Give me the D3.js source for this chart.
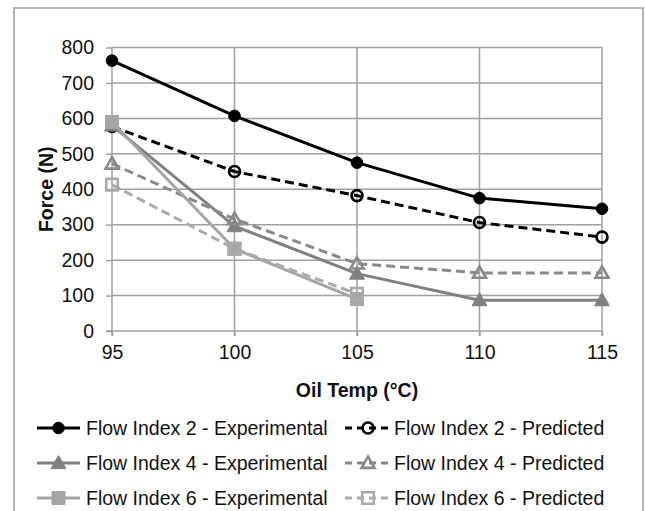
<!DOCTYPE html>
<html><head><meta charset="utf-8">
<script src="https://cdn.jsdelivr.net/npm/d3@7"></script>
<style>
html,body{margin:0;padding:0;background:#fff;}
svg{display:block;font-family:"Liberation Sans",Arial,sans-serif;}
</style></head>
<body><svg id="c" width="645" height="511"></svg>
<script>
const temps = [95, 100, 105, 110, 115];
const yTicks = [0, 100, 200, 300, 400, 500, 600, 700, 800];
const seriesNames = [
  "Flow Index 2 - Experimental", "Flow Index 2 - Predicted",
  "Flow Index 4 - Experimental", "Flow Index 4 - Predicted",
  "Flow Index 6 - Experimental", "Flow Index 6 - Predicted"
];
const fi2Exp  = [763, 607, 475, 375, 345];
const fi2Pred = [577, 450, 382, 306, 265];
const fi4Exp  = [580, 296, 162, 87, 87];
const fi4Pred = [472, 316, 190, 164, 164];
const fi6Exp  = [590, 232, 90];
const fi6Pred = [413, 232, 105];

const styles = [
  {color:"#000000", dash:null, marker:"circle", fill:true},
  {color:"#000000", dash:"9,5", marker:"circle", fill:false},
  {color:"#808080", dash:null, marker:"triangle", fill:true},
  {color:"#8a8a8a", dash:"9,5", marker:"triangle", fill:false},
  {color:"#a6a6a6", dash:null, marker:"square", fill:true},
  {color:"#ababab", dash:"9,5", marker:"square", fill:false}
];
const seriesVals = [fi2Exp, fi2Pred, fi4Exp, fi4Pred, fi6Exp, fi6Pred];

const svg = d3.select("#c");
const x = d3.scaleLinear().domain([95, 115]).range([112, 602]);
const y = d3.scaleLinear().domain([0, 800]).range([331, 47.5]);
const grid = "#a0a0a0";
const txt = "#111111";

// outer frame
svg.append("rect").attr("x", 14).attr("y", 8).attr("width", 629).attr("height", 520)
  .attr("fill", "none").attr("stroke", "#9a9a9a").attr("stroke-width", 1.5);

// horizontal gridlines
svg.append("g").selectAll("line").data(yTicks.filter(d => d > 0)).join("line")
  .attr("x1", x(95)).attr("x2", x(115)).attr("y1", d => y(d)).attr("y2", d => y(d))
  .attr("stroke", grid).attr("stroke-width", 1.5);
// vertical gridlines (extend below axis as ticks)
svg.append("g").selectAll("line").data(temps.filter(d => d > 95)).join("line")
  .attr("x1", d => x(d)).attr("x2", d => x(d)).attr("y1", y(800)).attr("y2", y(0) + 5)
  .attr("stroke", grid).attr("stroke-width", 1.5);

// y axis
const yAxis = d3.axisLeft(y).tickValues(yTicks).tickSize(6).tickPadding(12).tickFormat(d3.format("d"));
const gy = svg.append("g").attr("transform", `translate(${x(95)},0)`).call(yAxis);
gy.select(".domain").attr("stroke", grid).attr("stroke-width", 1.5).attr("d", `M0,${y(800)}V${y(0)+5}`);
gy.selectAll(".tick line").attr("stroke", grid).attr("stroke-width", 1.5);
gy.selectAll(".tick text").attr("font-size", 19.5).attr("fill", txt)
  .attr("font-family", "'Liberation Sans',Arial,sans-serif");

// x axis
const xAxis = d3.axisBottom(x).tickValues(temps).tickSize(5).tickPadding(9).tickFormat(d3.format("d"));
const gx = svg.append("g").attr("transform", `translate(0,${y(0)})`).call(xAxis);
gx.select(".domain").attr("stroke", grid).attr("stroke-width", 1.5).attr("d", `M${x(95)-6},0H${x(115)}`);
gx.selectAll(".tick line").attr("stroke", grid).attr("stroke-width", 1.5);
gx.selectAll(".tick text").attr("font-size", 19.5).attr("fill", txt)
  .attr("font-family", "'Liberation Sans',Arial,sans-serif");

// axis titles
svg.append("text").attr("x", 357).attr("y", 397).attr("text-anchor", "middle")
  .attr("font-size", 19.5).attr("font-weight", "bold").attr("fill", txt).text("Oil Temp (°C)");
svg.append("text").attr("transform", `translate(53,${(y(0)+y(800))/2}) rotate(-90)`)
  .attr("text-anchor", "middle").attr("font-size", 19.5).attr("font-weight", "bold")
  .attr("fill", txt).text("Force (N)");

function drawMarker(g, type, cx, cy, st) {
  const sw = 2.6;
  if (type === "circle") {
    g.append("circle").attr("cx", cx).attr("cy", cy).attr("r", st.fill ? 5.8 : 5.5)
      .attr("fill", st.fill ? st.color : "none").attr("stroke", st.color).attr("stroke-width", st.fill ? 1 : sw);
  } else if (type === "triangle") {
    const s = st.fill ? 7.5 : 6.5;
    const pts = [[cx, cy - s], [cx + s, cy + s * 0.75], [cx - s, cy + s * 0.75]];
    g.append("polygon").attr("points", pts.map(p => p.join(",")).join(" "))
      .attr("fill", st.fill ? st.color : "none").attr("stroke", st.color).attr("stroke-width", st.fill ? 1 : sw)
      .attr("stroke-linejoin", "miter");
  } else {
    const s = st.fill ? 6.5 : 5.8;
    g.append("rect").attr("x", cx - s).attr("y", cy - s).attr("width", 2 * s).attr("height", 2 * s)
      .attr("fill", st.fill ? st.color : "none").attr("stroke", st.color).attr("stroke-width", st.fill ? 1 : sw);
  }
}

const line = d3.line().x(d => x(d[0])).y(d => y(d[1]));
seriesVals.forEach((vals, i) => {
  const st = styles[i];
  const pts = vals.map((v, j) => [temps[j], v]);
  const g = svg.append("g");
  g.append("path").attr("d", line(pts)).attr("fill", "none").attr("stroke", st.color)
    .attr("stroke-width", 3).attr("stroke-dasharray", st.dash).attr("stroke-linejoin", "round");
  pts.forEach(p => drawMarker(g, st.marker, x(p[0]), y(p[1]), st));
});

// legend
const legRows = [428, 463, 498];
const legCols = [{x1: 37, x2: 80, tx: 86}, {x1: 345, x2: 391, tx: 394}];
seriesNames.forEach((name, i) => {
  const st = styles[i];
  const col = legCols[i % 2], ry = legRows[Math.floor(i / 2)];
  const g = svg.append("g");
  g.append("line").attr("x1", col.x1).attr("x2", col.x2).attr("y1", ry).attr("y2", ry)
    .attr("stroke", st.color).attr("stroke-width", 3).attr("stroke-dasharray", st.dash ? "7,5" : null);
  drawMarker(g, st.marker, (col.x1 + col.x2) / 2, ry, st);
  g.append("text").attr("x", col.tx).attr("y", ry + 7).attr("font-size", 19.5)
    .attr("fill", txt).text(name);
});
</script></body></html>
